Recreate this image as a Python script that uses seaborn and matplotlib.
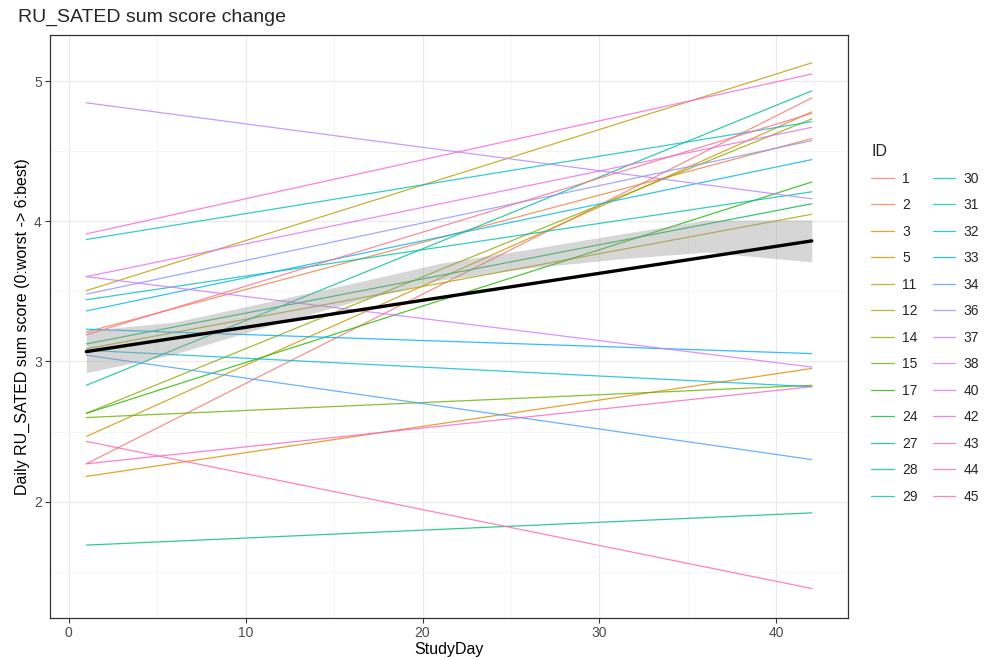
import numpy as np
import pandas as pd
import seaborn as sns
import matplotlib.pyplot as plt
from matplotlib.ticker import MultipleLocator

# participant IDs and their fitted scores at first / last study day
ids = [1, 2, 3, 5, 11, 12, 14, 15, 17, 24, 27, 28, 29,
       30, 31, 32, 33, 34, 36, 37, 38, 40, 42, 43, 44, 45]
start_scores = [2.27, 3.21, 2.18, 2.465, 3.505, 3.09, 2.63, 2.60, 2.63, 3.125, 1.69, 2.83, 3.44,
                3.87, 3.08, 3.36, 3.23, 3.045, 3.48, 4.845, 3.605, 3.605, 3.91, 2.27, 2.43, 3.19]
end_scores = [4.88, 4.59, 2.95, 4.78, 5.13, 4.05, 4.73, 2.83, 4.28, 4.125, 1.92, 4.93, 4.21,
              4.71, 2.82, 4.44, 3.056, 2.30, 4.575, 4.16, 2.96, 4.67, 5.05, 2.82, 1.38, 4.77]
day_range = [1, 42]

# overall linear trend and its confidence band
fit_scores = [3.07, 3.86]
ci_days = [1, 6, 11, 16, 21, 26, 31, 36, 42]
ci_lower = [2.92, 3.053, 3.242, 3.422, 3.58, 3.666, 3.73, 3.78, 3.71]
ci_upper = [3.22, 3.281, 3.418, 3.556, 3.70, 3.800, 3.905, 4.008, 4.01]


def hue_pal(n, h=(15, 375), c=100, l=65):
    # ggplot2 style hcl palette
    hues = np.linspace(h[0], h[1], n + 1)[:n]
    xn, yn, zn = 95.047, 100.0, 108.883
    un = 4 * xn / (xn + 15 * yn + 3 * zn)
    vn = 9 * yn / (xn + 15 * yn + 3 * zn)
    out = []
    for hh in hues:
        u = c * np.cos(np.radians(hh))
        v = c * np.sin(np.radians(hh))
        Y = yn * ((l + 16) / 116) ** 3
        up = u / (13 * l) + un
        vp = v / (13 * l) + vn
        X = Y * 9 * up / (4 * vp)
        Z = Y * (12 - 3 * up - 20 * vp) / (4 * vp)
        xyz = np.array([X, Y, Z]) / 100
        m = np.array([[3.2404542, -1.5371385, -0.4985314],
                      [-0.9692660, 1.8760108, 0.0415560],
                      [0.0556434, -0.2040259, 1.0572252]])
        rgb = m @ xyz
        rgb = np.where(rgb <= 0.0031308, 12.92 * rgb, 1.055 * np.clip(rgb, 0, None) ** (1 / 2.4) - 0.055)
        out.append(tuple(np.clip(rgb, 0, 1)))
    return out


id_labels = [str(i) for i in ids]
palette = dict(zip(id_labels, hue_pal(len(ids))))

df = pd.DataFrame({
    "ID": np.repeat(id_labels, 2),
    "StudyDay": np.tile(day_range, len(ids)),
    "score": np.column_stack([start_scores, end_scores]).ravel(),
})
fit = pd.DataFrame({"StudyDay": day_range, "score": fit_scores})

sns.set_style("white")
plt.rcParams["font.family"] = ["Liberation Sans", "DejaVu Sans"]

fig = plt.figure(figsize=(9.85, 6.59), dpi=100)
ax = fig.add_axes([0.0508, 0.0622, 0.8102, 0.885])

sns.lineplot(data=df, x="StudyDay", y="score", hue="ID", hue_order=id_labels,
             palette=palette, lw=0.9, alpha=0.8, ax=ax, estimator=None)
ax.fill_between(ci_days, ci_lower, ci_upper, color="#999999", alpha=0.4, lw=0, zorder=3)
sns.lineplot(data=fit, x="StudyDay", y="score", color="black", lw=2.4, ax=ax, zorder=4)

ax.set_xlim(-1.05, 44.05)
ax.set_ylim(1.17, 5.33)
ax.xaxis.set_major_locator(MultipleLocator(10))
ax.xaxis.set_minor_locator(MultipleLocator(5))
ax.yaxis.set_major_locator(MultipleLocator(1))
ax.yaxis.set_minor_locator(MultipleLocator(0.5))
ax.grid(which="major", color="#EBEBEB", lw=0.9)
ax.grid(which="minor", color="#F2F2F2", lw=0.5)
ax.set_axisbelow(True)
for s in ax.spines.values():
    s.set_color("#333333")
    s.set_linewidth(0.9)
ax.tick_params(which="major", length=3.5, width=0.8, color="#333333",
               labelcolor="#4D4D4D", labelsize=10, direction="out",
               bottom=True, left=True, pad=2.5)
ax.tick_params(which="minor", length=0)

ax.set_xlabel("StudyDay", fontsize=11.5, color="black", labelpad=1)
ax.set_ylabel("Daily RU_SATED sum score (0:worst -> 6:best)", fontsize=11.5,
              color="black", labelpad=3)

fig.text(0.018, 0.974, "RU_SATED sum score change", fontsize=14, ha="left", va="center")

handles, labels = ax.get_legend_handles_labels()
ax.get_legend().remove()
for h in handles:
    h.set_alpha(0.8)
leg = fig.legend(handles[:len(ids)], labels[:len(ids)], title="ID", ncol=2,
                 loc="upper left", bbox_to_anchor=(0.872, 0.80),
                 frameon=False, fontsize=10, title_fontsize=11.5,
                 handlelength=1.6, handletextpad=0.6, labelspacing=0.9,
                 columnspacing=1.1, alignment="left")

fig.savefig("out.png", dpi=100)
